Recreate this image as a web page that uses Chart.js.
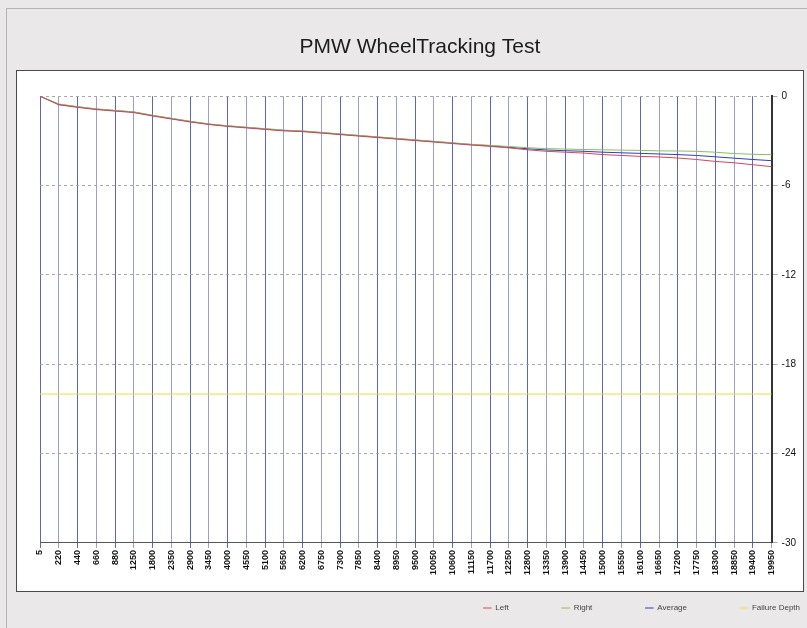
<!DOCTYPE html>
<html>
<head>
<meta charset="utf-8">
<script src="https://cdn.jsdelivr.net/npm/chart.js@4/dist/chart.umd.min.js"></script>
<style>
  html, body { margin: 0; padding: 0; width: 807px; height: 628px; overflow: hidden; background: #ebe8e9; }
  #outer { position: absolute; left: 6px; top: 8px; width: 820px; height: 640px; border-left: 1px solid #b5b3b4; border-top: 1px solid #b5b3b4; }
  #box { position: absolute; left: 16px; top: 70px; width: 788px; height: 522px; background: #fff; border: 1px solid #4a4a4a; box-sizing: border-box; }
  #wrap { position: absolute; left: 0; top: 0; width: 807px; height: 628px; }
</style>
</head>
<body>
<div id="outer"></div>
<div id="box"></div>
<div id="wrap"><canvas id="c" width="807" height="628"></canvas></div>
<script>
const passes = [5, 220, 440, 660, 880, 1250, 1800, 2350, 2900, 3450,
  4000, 4550, 5100, 5650, 6200, 6750, 7300, 7850, 8400, 8950,
  9500, 10050, 10600, 11150, 11700, 12250, 12800, 13350, 13900, 14450,
  15000, 15550, 16100, 16650, 17200, 17750, 18300, 18850, 19400, 19950];

const leftDepth = [0, -0.58, -0.75, -0.9, -1.0, -1.1, -1.33, -1.53, -1.73, -1.9,
  -2.03, -2.13, -2.23, -2.33, -2.38, -2.48, -2.58, -2.68, -2.78, -2.88,
  -2.98, -3.08, -3.18, -3.28, -3.37, -3.47, -3.6, -3.7, -3.76, -3.82,
  -3.92, -3.98, -4.04, -4.08, -4.15, -4.25, -4.38, -4.47, -4.6, -4.73];

const rightDepth = [0, -0.52, -0.7, -0.85, -0.95, -1.05, -1.28, -1.48, -1.68, -1.86,
  -1.98, -2.08, -2.18, -2.28, -2.33, -2.43, -2.53, -2.63, -2.73, -2.83,
  -2.93, -3.03, -3.13, -3.23, -3.3, -3.38, -3.46, -3.52, -3.55, -3.58,
  -3.6, -3.62, -3.64, -3.67, -3.68, -3.7, -3.76, -3.85, -3.9, -3.93];

const averageDepth = [0, -0.55, -0.72, -0.87, -0.97, -1.07, -1.3, -1.5, -1.7, -1.88,
  -2.0, -2.1, -2.2, -2.3, -2.35, -2.45, -2.55, -2.65, -2.75, -2.85,
  -2.95, -3.05, -3.15, -3.25, -3.33, -3.43, -3.53, -3.61, -3.66, -3.7,
  -3.76, -3.8, -3.84, -3.88, -3.92, -3.98, -4.07, -4.16, -4.25, -4.33];

const failureDepth = passes.map(() => -20);

const yTicks = [0, -6, -12, -18, -24, -30];

const FONT = "'Liberation Sans', Arial, sans-serif";

// Legend: wide item spacing, but drawn closer to the axis and flush right
const legendShift = {
  id: 'legendShift',
  afterUpdate(chart) {
    const lg = chart.legend;
    if (!lg) return;
    const pad = lg.options.labels.padding;
    lg.right = lg.right + pad;
    lg.top -= (pad - 27);
  }
};

new Chart(document.getElementById('c'), {
  type: 'line',
  data: {
    labels: passes.map(String),
    datasets: [
      { label: 'Left', data: leftDepth, borderColor: '#d8455a', backgroundColor: '#d8455a', borderWidth: 1, pointRadius: 0, tension: 0 },
      { label: 'Right', data: rightDepth, borderColor: '#86c25a', backgroundColor: '#86c25a', borderWidth: 1, pointRadius: 0, tension: 0 },
      { label: 'Average', data: averageDepth, borderColor: '#2f3fb8', backgroundColor: '#2f3fb8', borderWidth: 1, pointRadius: 0, tension: 0 },
      { label: 'Failure Depth', data: failureDepth, borderColor: '#e6e03a', backgroundColor: '#e6e03a', borderWidth: 1, pointRadius: 0, tension: 0 }
    ]
  },
  options: {
    responsive: false,
    animation: false,
    layout: { padding: { left: 40, right: 7, top: 0, bottom: 6 } },
    plugins: {
      title: {
        display: true,
        text: 'PMW WheelTracking Test',
        font: { family: FONT, size: 21, weight: 'normal' },
        color: '#1c1c1c',
        padding: { top: 35, bottom: 36 }
      },
      legend: {
        display: true,
        position: 'bottom',
        align: 'end',
        maxHeight: 45,
        labels: {
          usePointStyle: true,
          pointStyle: 'line',
          boxWidth: 8,
          boxHeight: 6,
          padding: 53,
          font: { family: FONT, size: 8 },
          color: '#444'
        }
      },
      tooltip: { enabled: false }
    },
    scales: {
      x: {
        type: 'category',
        offset: false,
        grid: {
          display: true,
          color: (ctx) => (ctx.index % 2 === 0 ? '#5a66c0' : '#9aa0cc'),
          lineWidth: 1,
          drawTicks: true,
          tickLength: 5
        },
        border: { display: true, color: '#555', width: 1 },
        ticks: {
          autoSkip: false,
          maxRotation: 90,
          minRotation: 90,
          padding: 2,
          font: { family: FONT, size: 9, weight: 'bold' },
          color: '#111'
        }
      },
      y: {
        position: 'right',
        min: -30,
        max: 0,
        afterBuildTicks: (axis) => { axis.ticks = yTicks.map(v => ({ value: v })); },
        grid: {
          display: true,
          color: '#a8a8a8',
          lineWidth: 1,
          drawTicks: true,
          tickLength: 6
        },
        border: { display: true, color: '#333', width: 2, dash: [3, 3] },
        ticks: {
          padding: 4,
          font: { family: FONT, size: 10 },
          color: '#111'
        }
      }
    }
  },
  plugins: [legendShift]
});
</script>
</body>
</html>
